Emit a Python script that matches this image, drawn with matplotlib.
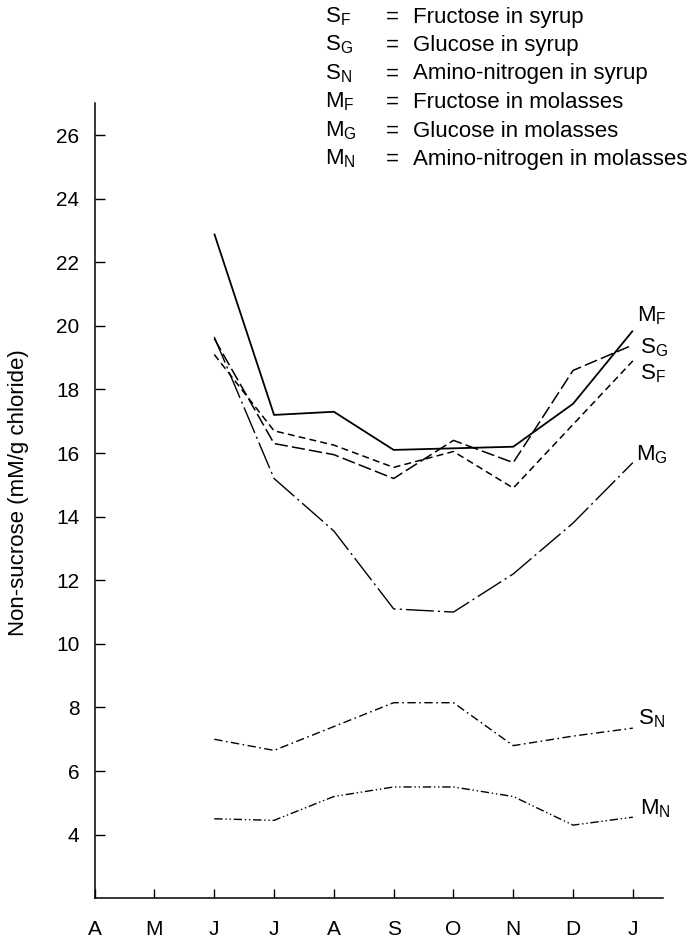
import matplotlib
matplotlib.use("Agg")
import matplotlib.pyplot as plt

plt.rcParams['font.family'] = ['Liberation Sans', 'DejaVu Sans']
plt.rcParams['lines.scale_dashes'] = False

# month axis (April to January) and the sampled months (June to January)
month_labels = ['A', 'M', 'J', 'J', 'A', 'S', 'O', 'N', 'D', 'J']
sample_idx = [2, 3, 4, 5, 6, 7, 8, 9]

# non-sucrose values, mM/g chloride
s_f = [19.1, 16.7, 16.25, 15.55, 16.05, 14.9, 16.9, 18.9]
s_g = [19.6, 16.3, 15.95, 15.2, 16.4, 15.7, 18.6, 19.4]
s_n = [7.0, 6.65, 7.4, 8.15, 8.15, 6.8, 7.1, 7.35]
m_f = [22.9, 17.2, 17.3, 16.1, 16.15, 16.2, 17.55, 19.85]
m_g = [19.65, 15.2, 13.55, 11.1, 11.0, 12.2, 13.8, 15.7]
m_n = [4.5, 4.45, 5.2, 5.5, 5.5, 5.2, 4.3, 4.55]

legend_syms = [r'$\mathregular{S_F}$', r'$\mathregular{S_G}$', r'$\mathregular{S_N}$',
               r'$\mathregular{M_F}$', r'$\mathregular{M_G}$', r'$\mathregular{M_N}$']
legend_text = ['Fructose in syrup', 'Glucose in syrup', 'Amino-nitrogen in syrup',
               'Fructose in molasses', 'Glucose in molasses', 'Amino-nitrogen in molasses']

fig = plt.figure(figsize=(6.89, 9.40), dpi=100)
ax = fig.add_axes([0.1374, 0.0444, 0.8245, 0.8457])

# series: values, dash pattern (points), linewidth, end label, label offset (points)
series = [
    (m_f, (0, ()), 1.3, r'$\mathregular{M_F}$', (3, 11)),
    (s_g, (0, (9.5, 3)), 1.1, r'$\mathregular{S_G}$', (5, -2)),
    (s_f, (0, (5, 3)), 1.1, r'$\mathregular{S_F}$', (5, -9)),
    (m_g, (0, (20, 3, 1.5, 3)), 1.0, r'$\mathregular{M_G}$', (2, 6)),
    (s_n, (0, (6, 2.5, 1.2, 2.5)), 1.0, r'$\mathregular{S_N}$', (4, 7)),
    (m_n, (0, (6, 2, 1, 2, 1, 2)), 1.0, r'$\mathregular{M_N}$', (5, 6)),
]

for vals, dash, lw, lab, off in series:
    ax.plot(sample_idx, vals, color='black', lw=lw, linestyle=dash)
    ax.annotate(lab, xy=(sample_idx[-1], vals[-1]), xytext=off,
                textcoords='offset points', ha='left', va='center', fontsize=16)

ax.set_xlim(0, 9.5)
ax.set_ylim(2, 27)
ax.set_xticks(range(len(month_labels)))
ax.set_xticklabels(month_labels)
ax.set_yticks(range(4, 27, 2))

for side in ['top', 'right']:
    ax.spines[side].set_visible(False)
for side in ['left', 'bottom']:
    ax.spines[side].set_linewidth(1.1)

ax.tick_params(axis='y', direction='in', length=7, width=1, pad=11, labelsize=15)
ax.tick_params(axis='x', direction='in', length=6.5, width=1, pad=16, labelsize=15)

ax.set_ylabel('Non-sucrose (mM/g chloride)', fontsize=16)
ax.yaxis.set_label_coords(-0.115, 0.51)

# key at the top right
row_y = [17, 45, 74, 102, 131, 159]
for sym, txt, y in zip(legend_syms, legend_text, row_y):
    fy = 1 - y / 940
    fig.text(325 / 689, fy, sym, ha='left', va='center', fontsize=16)
    fig.text(386 / 689, fy, '=', ha='left', va='center', fontsize=16)
    fig.text(413 / 689, fy, txt, ha='left', va='center', fontsize=16)

fig.savefig('out.png', dpi=100)
